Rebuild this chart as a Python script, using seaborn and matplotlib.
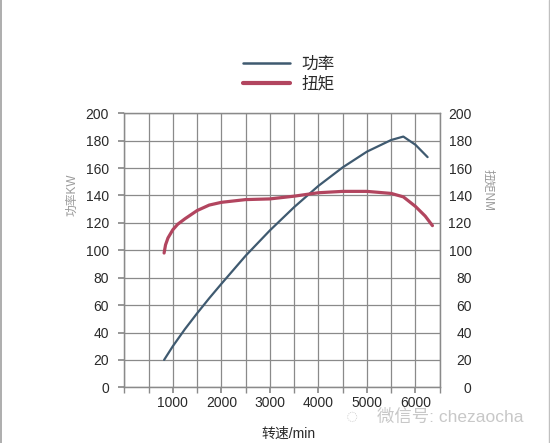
import matplotlib
matplotlib.use("Agg")
import matplotlib.pyplot as plt
import seaborn as sns
import pandas as pd
from matplotlib.lines import Line2D

# ---- data ----
power_rpm = [820, 1000, 1250, 1500, 1750, 2000, 2500, 3000, 3500, 4000, 4500, 5000, 5500, 5750, 6000, 6250]
power_kw = [20, 30, 42.5, 54, 65, 75.5, 96, 114.5, 131.5, 147, 160.5, 172, 180.5, 183, 177, 168]

torque_rpm = [820, 850, 900, 1000, 1100, 1250, 1500, 1750, 2000, 2500, 3000, 3500, 4000, 4500, 5000, 5500, 5750, 6000, 6200, 6350]
torque_nm = [98, 104, 109, 115, 119, 123, 129, 133, 135, 137, 137.5, 139.5, 142, 143, 143, 141.5, 139, 132, 125, 118]

x_ticks = [1000, 2000, 3000, 4000, 5000, 6000]
y_ticks = [0, 20, 40, 60, 80, 100, 120, 140, 160, 180, 200]
series_names = ["功率", "扭矩"]
x_label = "转速/min"
left_label = "功率KW"
right_label = "扭矩NM"
watermark = "微信号: chezaocha"

POWER_C = "#3f5a70"
TORQUE_C = "#b2455f"
GRID_C = "#8a8a8a"
TEXT_C = "#2a2a2a"

sns.set_theme(style="white")
plt.rcParams["font.family"] = ["Liberation Sans", "Noto Sans CJK SC", "DejaVu Sans"]

fig = plt.figure(figsize=(5.5, 4.43), dpi=100)
ax = fig.add_axes([0.226, 0.1257, 0.5735, 0.6186])

df_p = pd.DataFrame({"rpm": power_rpm, "val": power_kw})
df_t = pd.DataFrame({"rpm": torque_rpm, "val": torque_nm})

sns.lineplot(data=df_p, x="rpm", y="val", ax=ax, color=POWER_C, linewidth=1.6, zorder=3)
ax2 = ax.twinx()
sns.lineplot(data=df_t, x="rpm", y="val", ax=ax2, color=TORQUE_C, linewidth=2.3, zorder=3)

for a in (ax, ax2):
    a.set_xlim(0, 6500)
    a.set_ylim(0, 200)
    a.set_ylabel("")
    a.set_xlabel("")

# grid every 500 rpm and every 20 units
ax.set_xticks(range(0, 6501, 500), minor=True)
ax.set_xticks(x_ticks)
ax.set_yticks(y_ticks)
ax.grid(True, which="both", axis="x", color=GRID_C, linewidth=0.9)
ax.grid(True, which="major", axis="y", color=GRID_C, linewidth=0.9)
ax.set_axisbelow(True)
ax.tick_params(axis="x", which="both", direction="out", length=4, color=GRID_C,
               bottom=True, labelsize=10, labelcolor=TEXT_C, pad=2.5)
ax.tick_params(axis="y", direction="out", length=4, color=GRID_C, left=True,
               labelsize=10, labelcolor=TEXT_C, pad=7)

ax2.set_yticks(y_ticks)
ax2.tick_params(axis="y", length=0, labelsize=10, labelcolor=TEXT_C, pad=23)
for lab in ax2.get_yticklabels():
    lab.set_horizontalalignment("right")
ax2.grid(False)

for a in (ax, ax2):
    for s in a.spines.values():
        s.set_color(GRID_C)
        s.set_linewidth(0.9)

ax.set_xlabel(x_label, fontsize=10, color=TEXT_C)
ax.xaxis.set_label_coords(0.52, -0.145)

fig.text(72.5 / 550, 1 - 195 / 443, left_label, rotation=90, ha="center", va="center",
         fontsize=8.5, color="#9a9a9a")
fig.text(488 / 550, 1 - 190 / 443, right_label, rotation=270, ha="center", va="center",
         fontsize=8.5, color="#9a9a9a")

handles = [Line2D([], [], color=POWER_C, linewidth=1.8),
           Line2D([], [], color=TORQUE_C, linewidth=3.0)]
fig.legend(handles, series_names, loc="center", bbox_to_anchor=(289 / 550, 1 - 74 / 443),
           frameon=False, fontsize=12, handlelength=2.8, handletextpad=0.7,
           labelspacing=0.25, labelcolor=TEXT_C)

fig.text(352 / 550, 1 - 417 / 443, "\u25cc", fontsize=15, color="#d6d6d6", ha="center", va="center")
fig.text(450 / 550, 1 - 417 / 443, watermark, fontsize=12.5, color="#c8c8c8", ha="center", va="center")

# thin border lines at the image edges
fig.add_artist(Line2D([0.002, 0.002], [0, 1], transform=fig.transFigure, color="#a0a0a0", linewidth=1.2))
fig.add_artist(Line2D([0.998, 0.998], [0, 1], transform=fig.transFigure, color="#c0c0c0", linewidth=1.0))

fig.savefig("out.png", dpi=100, facecolor="white")
